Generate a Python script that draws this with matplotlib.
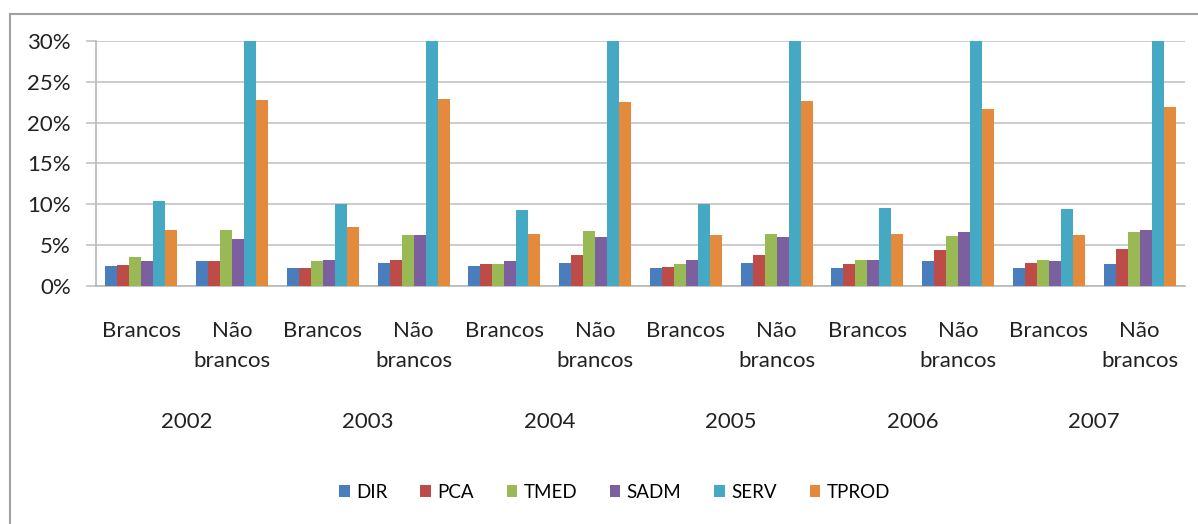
import numpy as np
import matplotlib.pyplot as plt
from matplotlib.lines import Line2D

plt.rcParams["font.family"] = ["Lato", "DejaVu Sans"]

anos = ['2002', '2003', '2004', '2005', '2006', '2007']
grupos = ['Brancos', 'Não\nbrancos']
series = ['DIR', 'PCA', 'TMED', 'SADM', 'SERV', 'TPROD']

# valores em %, ordem: 2002 B, 2002 NB, 2003 B, ...
DIR   = [2.4, 3.0, 2.2, 2.8, 2.4, 2.8, 2.2, 2.8, 2.2, 3.0, 2.2, 2.7]
PCA   = [2.6, 3.0, 2.2, 3.2, 2.7, 3.8, 2.3, 3.8, 2.7, 4.4, 2.8, 4.5]
TMED  = [3.6, 6.8, 3.0, 6.2, 2.7, 6.7, 2.7, 6.4, 3.2, 6.1, 3.2, 6.6]
SADM  = [3.0, 5.8, 3.2, 6.2, 3.0, 6.0, 3.2, 6.0, 3.2, 6.6, 3.0, 6.8]
SERV  = [10.4, 36.0, 10.0, 36.0, 9.3, 36.0, 10.0, 36.0, 9.6, 36.0, 9.4, 36.0]
TPROD = [6.8, 22.8, 7.2, 22.9, 6.4, 22.5, 6.2, 22.7, 6.4, 21.7, 6.2, 21.9]

cores = ['#4a7dbb', '#bd4b48', '#98b954', '#7c5f9f', '#46a9c4', '#e38a3c']

valores = [DIR, PCA, TMED, SADM, SERV, TPROD]

fig = plt.figure(figsize=(11.98, 5.24), dpi=100)
ax = fig.add_axes([0.0801, 0.4542, 0.909, 0.4676])

n = len(anos) * len(grupos)
x = np.arange(n) + 0.5
w = 0.132
for k in range(len(series)):
    off = (k - 2.5) * w
    ax.bar(x + off, np.array(valores[k]) / 100, w, color=cores[k], label=series[k], zorder=3)

fs = 16
ax.set_xlim(0, n)
ax.set_ylim(0, 0.30)
ax.set_yticks(np.arange(0, 0.31, 0.05))
ax.set_yticklabels(['%d%%' % v for v in range(0, 31, 5)], fontsize=fs, color='#222222')
ax.yaxis.grid(True, color='#c4c4c4', linewidth=1.2, zorder=0)
ax.tick_params(axis='y', length=7, color='#c4c4c4', width=1.2, pad=11)

ax.set_xticks(x)
ax.set_xticklabels(grupos * len(anos), fontsize=fs, color='#222222', linespacing=1.65,
                   va='top')
ax.tick_params(axis='x', length=0, pad=25)

for s in ['top', 'right']:
    ax.spines[s].set_visible(False)
ax.spines['left'].set_color('#b8b8b8')
ax.spines['bottom'].set_color('#b8b8b8')
ax.spines['left'].set_linewidth(1.2)
ax.spines['bottom'].set_linewidth(1.2)

tr = ax.get_xaxis_transform()
for i, a in enumerate(anos):
    ax.text(2 * i + 1, -0.555, a, transform=tr, ha='center', va='center',
            fontsize=fs, color='#222222')

leg = fig.legend(loc='center', bbox_to_anchor=(0.513, 0.061), ncol=6, frameon=False,
                 fontsize=13.5, handlelength=0.55, handleheight=0.55, handletextpad=0.35,
                 columnspacing=1.75)

# moldura do gráfico
fig.add_artist(Line2D([10 / 1198, 10 / 1198], [0, 1 - 14 / 524], color='#a0a0a0', lw=1.5))
fig.add_artist(Line2D([10 / 1198, 1], [1 - 14 / 524, 1 - 14 / 524], color='#a0a0a0', lw=1.5))

fig.savefig('out.png', dpi=100)
